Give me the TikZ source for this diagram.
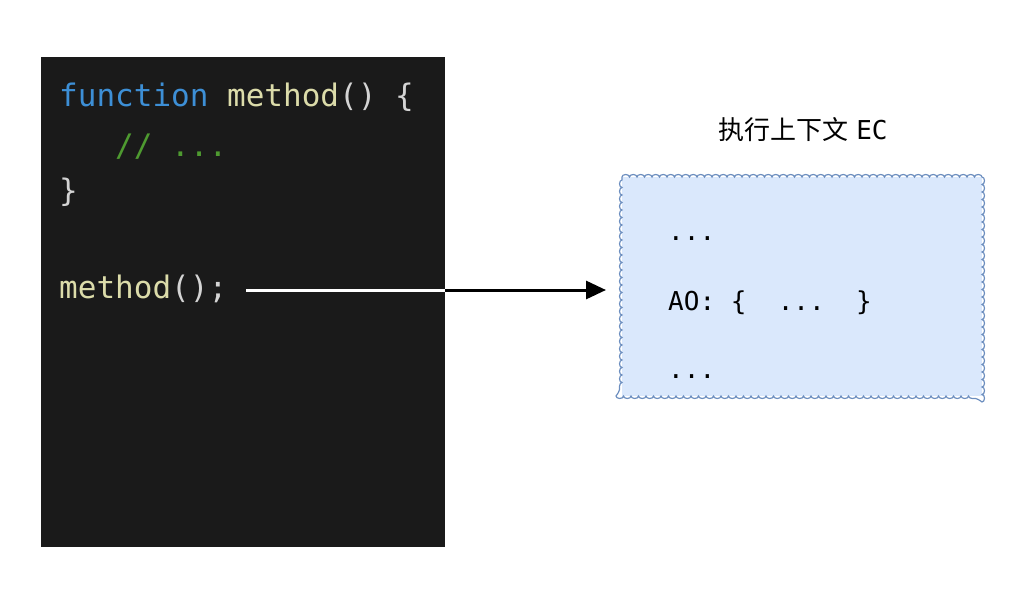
\documentclass[tikz,border=0pt]{standalone}
\usepackage{fontspec}
\setmonofont{DejaVu Sans Mono}
\newfontfamily\cjk{Noto Sans CJK SC}
\usetikzlibrary{decorations.pathmorphing,arrows.meta}
\definecolor{codebg}{HTML}{1A1A1A}
\definecolor{kw}{HTML}{3D8FD6}
\definecolor{fn}{HTML}{DCDCAA}
\definecolor{pu}{HTML}{D4D4D4}
\definecolor{cm}{HTML}{4E9A30}
\definecolor{cloudfill}{HTML}{DAE8FC}
\definecolor{cloudline}{HTML}{6C8EBF}
\begin{document}
\begin{tikzpicture}[x=1pt,y=-1pt,
  code/.style={anchor=base west,inner sep=0pt,font=\fontsize{31}{31}\ttfamily},
  ec/.style={anchor=base west,inner sep=0pt,font=\fontsize{26}{26}\ttfamily}]
\useasboundingbox (0,0) rectangle (1028,600);
\fill[codebg] (41,57) rectangle (445,547);
\node[code] (l1) at (59,106) {\color{kw}function \color{fn}method\color{pu}() \{};
\node[code] (l2) at (59,156) {\color{cm}\ \ \ // ...};
\node[code] (l3) at (59,201) {\color{pu}\}};
\node[code] (call) at (59,298) {\color{fn}method\color{pu}();};
\coordinate (edge) at (445,290);
\coordinate (start) at (246,290);
% cloud
\fill[cloudfill] (622,177) rectangle (982,396);
\draw[cloudline,line width=1.2pt,decorate,decoration={bumps,segment length=15pt,amplitude=2.5pt}]
  (622,177) -- (982,177) -- (982,396) -- (622,396) -- cycle;
\node[inner sep=0pt] (cloud) at (802,287) {};
\node[inner sep=0pt,font=\fontsize{26}{26}\selectfont] (title) at (803,130) {{\cjk 执行上下文} \texttt{EC}};
\node[ec] (e1) at (668,240) {...};
\node[ec] (e2) at (668,310) {AO: \{\ \ ...\ \ \}};
\node[ec] (e3) at (668,378) {...};
\draw[white,line width=3pt] (start) -- (edge);
\draw[black,line width=3pt,-{Triangle[length=20pt,width=18pt]}] (edge) -- (606,290);
\end{tikzpicture}
\end{document}
